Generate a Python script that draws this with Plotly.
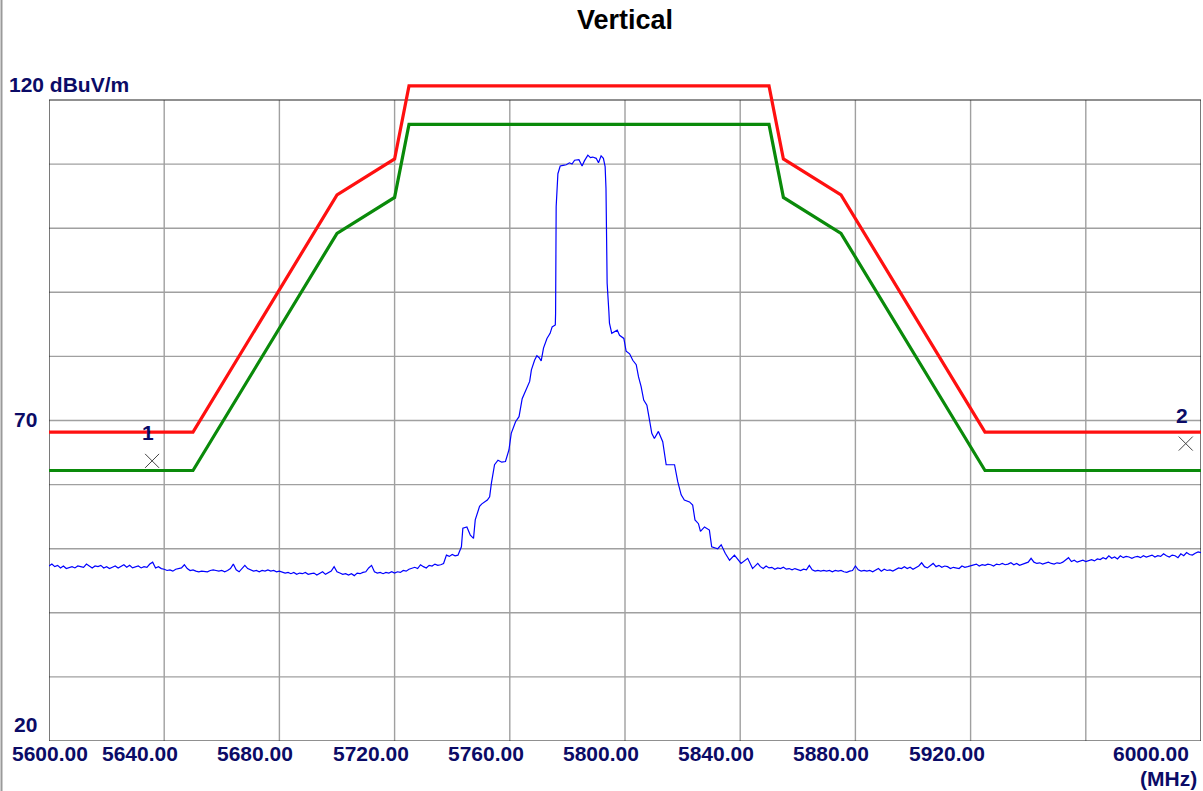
import plotly.graph_objects as go

# ---------------- data ----------------
limit_freq = [5600, 5650, 5700, 5720, 5725, 5850, 5855, 5875, 5925, 6000]
limit_red = [68.2, 68.2, 105.2, 110.8, 122.2, 122.2, 110.8, 105.2, 68.2, 68.2]
limit_green = [62.2, 62.2, 99.2, 104.8, 116.2, 116.2, 104.8, 99.2, 62.2, 62.2]

# noise floor left of the carrier, 1 MHz sweep steps starting at 5600 MHz
floor_left_start = 5600
floor_left = [
    47.3, 47.6, 47.2, 47.4, 47.0, 47.3, 46.9, 47.1, 47.2, 47.0,
    47.3, 47.2, 47.1, 47.6, 47.3, 47.0, 47.3, 47.2, 47.4, 47.0,
    47.2, 46.9, 47.1, 47.3, 47.0, 47.2, 47.5, 47.1, 47.4, 47.0,
    47.2, 47.3, 47.0, 47.2, 47.1, 47.6, 47.9, 47.0, 47.2, 46.9,
    46.8,
    46.6, 46.7, 46.5, 46.8, 46.9, 47.0, 47.5, 46.9, 46.6, 46.7,
    46.5, 46.4, 46.5, 46.5, 46.4, 46.6, 46.7, 46.6, 46.5, 46.6,
    46.4, 46.6, 46.9, 47.6, 46.7, 46.4, 46.9, 47.4, 46.9, 46.7,
    46.5, 46.6, 46.4, 46.6, 46.5, 46.7, 46.5, 46.6, 46.4, 46.5,
    46.4, 46.2, 46.3, 46.1, 46.3, 46.0, 46.2, 46.1, 46.3, 46.0,
    46.1, 46.2, 45.9, 46.1, 46.4, 46.0, 46.2, 46.5, 47.2, 46.4,
    46.2, 46.0, 46.1, 45.9, 46.1, 45.8, 46.2, 46.1, 46.3, 46.4,
    47.0, 47.4, 46.4, 46.2, 46.3, 46.1, 46.3, 46.2, 46.4, 46.2,
    46.4, 46.3, 46.6, 46.5, 46.8, 46.9, 47.1, 46.9, 47.5, 47.2,
    47.0, 47.4, 47.3, 47.6, 47.4, 47.5, 47.7,
]

# carrier region (MHz, dBuV/m)
signal_freq = [
    5738.0, 5739.0, 5740.0, 5741.0, 5742.0, 5743.2, 5743.7, 5745.1, 5746.3, 5747.4,
    5748.0, 5749.5, 5750.3, 5751.3, 5752.2, 5753.0, 5753.6, 5754.7, 5755.9, 5757.2,
    5758.5, 5759.7, 5760.5, 5762.0, 5763.2, 5764.3, 5765.7, 5766.9, 5767.5, 5768.6,
    5769.4, 5770.2, 5770.9, 5771.7, 5772.9, 5774.0, 5774.7, 5775.8, 5775.9, 5776.1,
    5776.7, 5777.5, 5778.5, 5779.6, 5780.7, 5781.6, 5782.5, 5784.0, 5785.1, 5785.9,
    5787.1, 5788.0, 5788.8, 5790.0, 5790.8, 5791.7, 5792.5, 5793.1, 5793.4, 5793.8,
    5794.4, 5794.6, 5795.4, 5796.6, 5797.3, 5798.1, 5799.6, 5800.4, 5801.6, 5802.7,
    5803.9, 5804.7, 5805.6, 5806.5, 5807.6, 5808.5, 5809.3, 5810.2, 5811.6, 5813.1,
    5814.3, 5816.0, 5817.2, 5818.3, 5819.5, 5820.6, 5822.4, 5823.5, 5824.3, 5825.5,
    5826.2, 5827.6, 5829.3, 5830.1, 5832.2, 5833.4, 5834.8, 5836.3, 5838.0, 5840.3,
    5842.6, 5844.3, 5846.1,
]
signal_level = [
    49.0, 48.8, 49.1, 48.9, 49.0, 50.3, 53.2, 53.4, 52.1, 51.6,
    54.5, 56.6, 57.0, 57.3, 57.6, 58.1, 60.2, 63.1, 63.8, 63.5,
    63.6, 65.4, 68.0, 69.8, 70.6, 73.4, 75.0, 76.1, 77.9, 79.4,
    80.1, 79.8, 79.3, 81.3, 82.8, 83.6, 84.6, 84.9, 86.7, 103.4,
    108.5, 109.7, 109.8, 109.9, 110.2, 110.0, 110.6, 110.7, 109.7, 110.5,
    111.4, 111.0, 111.1, 110.9, 110.2, 111.3, 110.9, 109.6, 106.2, 91.4,
    87.0, 85.2, 83.6, 83.9, 84.1, 83.3, 82.8, 80.8, 80.4, 79.4,
    78.7, 76.8, 75.3, 73.2, 72.4, 70.1, 68.0, 67.2, 68.3, 66.7,
    63.1, 63.1, 63.1, 60.5, 58.4, 57.6, 57.3, 56.8, 54.5, 53.9,
    52.7, 53.4, 52.9, 50.3, 50.0, 50.6, 49.3, 48.2, 49.0, 47.7,
    48.5, 46.9, 47.7,
]

# noise floor right of the carrier, 1 MHz sweep steps starting at 5847 MHz
floor_right_start = 5847
floor_right = [
    47.2, 46.9, 47.3, 47.0, 47.1, 46.8, 47.0, 46.9, 47.1, 46.8,
    46.9, 46.7, 46.9, 46.8, 46.6, 46.8, 46.7, 47.4, 46.7, 46.5,
    46.6, 46.5, 46.6, 46.5, 46.6, 46.4, 46.6, 46.5, 46.6, 46.4,
    46.3, 46.5, 46.6, 47.3,
    46.7, 46.5, 46.6, 46.5, 46.6, 46.4, 46.7, 46.9, 46.5, 46.8,
    46.6, 46.7, 46.5, 46.8, 47.0, 46.9, 47.2, 46.9, 47.1, 46.8,
    47.0, 47.3, 47.8, 47.2, 47.0, 47.3, 47.7, 47.2, 47.4, 47.1,
    47.3, 47.2, 46.9, 47.1, 47.0, 46.9, 47.3, 47.1, 47.2, 47.3,
    47.4, 47.6, 47.3, 47.5, 47.4, 47.6, 47.5, 47.3, 47.6, 47.5,
    47.7, 47.5, 47.6, 47.8, 47.5, 47.7, 47.4, 47.6, 47.7, 47.9,
    48.5, 47.9, 47.7, 47.8, 47.6, 47.7, 47.9, 47.7, 47.6, 47.8,
    47.7, 47.9, 48.2, 48.6, 48.0, 48.2, 47.9, 48.1, 48.2, 48.0,
    48.2, 48.3, 48.1, 48.4, 48.3, 48.6, 48.4, 48.9, 48.5, 48.7,
    48.4, 48.9, 48.6, 48.8, 48.7, 48.5, 48.7, 48.8, 48.6, 48.9,
    48.7, 48.8, 49.0, 48.7, 48.9, 48.8, 49.2, 48.9, 48.7, 49.0,
    48.9, 48.6, 49.2, 48.9, 49.4, 49.1, 49.0, 49.3, 49.5, 49.4,
]

marker_freq = [5635.8, 5994.7]
marker_level = [63.7, 66.4]
marker_labels = ["1", "2"]

x_min, x_max = 5600, 6000
y_min, y_max = 20, 120
x_grid = [5640, 5680, 5720, 5760, 5800, 5840, 5880, 5920, 5960]
y_grid = [30, 40, 50, 60, 70, 80, 90, 100, 110]
x_tick_vals = [5600, 5640, 5680, 5720, 5760, 5800, 5840, 5880, 5920, 6000]
x_tick_text = ["5600.00", "5640.00", "5680.00", "5720.00", "5760.00",
               "5800.00", "5840.00", "5880.00", "5920.00", "6000.00"]
y_tick_vals = [120, 70, 20]
y_tick_text = ["120 dBuV/m", "70", "20"]

# ---------------- build trace ----------------
trace_freq = ([floor_left_start + i for i in range(len(floor_left))]
              + signal_freq
              + [floor_right_start + i for i in range(len(floor_right))])
trace_level = floor_left + signal_level + floor_right

W, H = 1203, 791
ML, MR, MT, MB = 49, 2, 74, 50
px_per_db = 6.41
plot_h = H - MT - MB
y_top = y_min + plot_h / px_per_db

FONT_FAMILY = "Arial, Liberation Sans, sans-serif"
LABEL_FONT = dict(family=FONT_FAMILY, size=21, color="#0b0b66")

fig = go.Figure()
fig.add_trace(go.Scatter(x=trace_freq, y=trace_level, mode="lines",
                         line=dict(color="#0000ff", width=1.2), hoverinfo="skip"))
fig.add_trace(go.Scatter(x=limit_freq, y=limit_green, mode="lines",
                         line=dict(color="#0a8a0a", width=3.2)))
fig.add_trace(go.Scatter(x=limit_freq, y=limit_red, mode="lines",
                         line=dict(color="#ff1010", width=3.2)))
fig.add_trace(go.Scatter(x=marker_freq, y=marker_level, mode="markers",
                         marker=dict(symbol="x-thin-open", size=14, color="#444444",
                                     line=dict(color="#444444", width=1))))

shapes = []
grid_style = dict(color="#a0a0a0", width=1.4)
for g in x_grid:
    shapes.append(dict(type="line", xref="x", yref="y", x0=g, x1=g, y0=y_min, y1=y_max,
                       line=grid_style, layer="below"))
for g in y_grid:
    shapes.append(dict(type="line", xref="x", yref="y", x0=x_min, x1=x_max, y0=g, y1=g,
                       line=grid_style, layer="below"))
shapes.append(dict(type="rect", xref="x", yref="y", x0=x_min, x1=x_max, y0=y_min, y1=y_max,
                   line=dict(color="#222222", width=1.2), layer="below"))
# window border at far left
shapes.append(dict(type="line", xref="paper", yref="paper",
                   x0=-(ML - 1.5) / (W - ML - MR), x1=-(ML - 1.5) / (W - ML - MR),
                   y0=-MB / plot_h, y1=1 + MT / plot_h,
                   line=dict(color="#9a9a9a", width=2)))

annotations = []
n = len(x_tick_vals)
for i, (v, t) in enumerate(zip(x_tick_vals, x_tick_text)):
    if i == 0:
        xs = 1
    elif i == n - 1:
        xs = -50
    else:
        xs = -24
    annotations.append(dict(x=v, y=0, xref="x", yref="paper", text="<b>" + t + "</b>",
                            showarrow=False, xanchor="center", yanchor="middle",
                            xshift=xs, yshift=-12, font=LABEL_FONT))
annotations.append(dict(x=1, y=0, xref="paper", yref="paper", text="<b>(MHz)</b>",
                        showarrow=False, xanchor="right", yanchor="middle", borderpad=0,
                        xshift=-3, yshift=-37, font=LABEL_FONT))
for v, t in zip(y_tick_vals, y_tick_text):
    ys = 1 if v == 70 else 16 if v == y_max else 17
    xs = -42 if v == y_max else -37
    annotations.append(dict(x=0, y=v, xref="paper", yref="y", text="<b>" + t + "</b>",
                            showarrow=False, xanchor="left", yanchor="middle",
                            xshift=xs, yshift=ys, font=LABEL_FONT))
for f, lv, lab in zip(marker_freq, marker_level, marker_labels):
    annotations.append(dict(x=f, y=lv, xref="x", yref="y", text="<b>" + lab + "</b>",
                            showarrow=False, xanchor="center", yanchor="middle",
                            xshift=-4, yshift=28, font=LABEL_FONT))

fig.update_layout(
    width=W, height=H,
    margin=dict(l=ML, r=MR, t=MT, b=MB, pad=0),
    paper_bgcolor="white", plot_bgcolor="white",
    showlegend=False,
    title=dict(text="<b>Vertical</b>", x=0.5, xref="paper", xanchor="center",
               y=1 - 20 / H, yref="container", yanchor="middle",
               font=dict(family=FONT_FAMILY, size=27, color="#000000")),
    xaxis=dict(range=[x_min, x_max], showgrid=False, zeroline=False, showline=False,
               showticklabels=False, ticks="", fixedrange=True),
    yaxis=dict(range=[y_min, y_top], showgrid=False, zeroline=False, showline=False,
               showticklabels=False, ticks="", fixedrange=True),
    shapes=shapes,
    annotations=annotations,
)

fig.write_html("out.html",
               config={"displayModeBar": False},
               post_script="document.body.style.margin='0';document.body.style.padding='0';")
